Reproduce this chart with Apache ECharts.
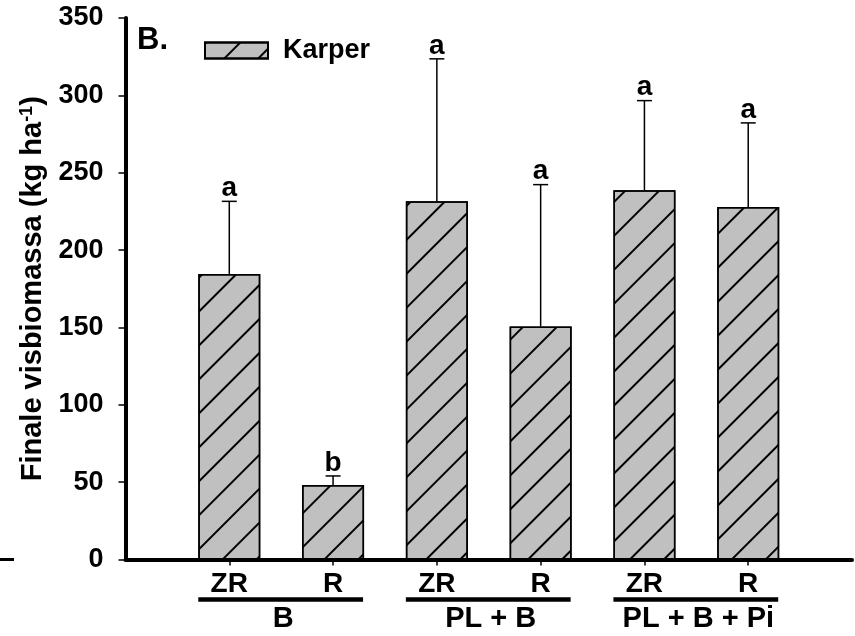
<!DOCTYPE html>
<html>
<head>
<meta charset="utf-8">
<script src="https://cdn.jsdelivr.net/npm/echarts@6/dist/echarts.min.js"></script>
<style>
  html, body { margin: 0; padding: 0; background: #fff; }
  #chart { width: 855px; height: 636px; }
</style>
</head>
<body>
<div id="chart"></div>
<script>
// treatments under each bar, and the fertilisation group they belong to
const categories = ['ZR', 'R', 'ZR', 'R', 'ZR', 'R']
const groups = ['B', 'PL + B', 'PL + B + Pi']

// final fish biomass (kg/ha), upper error, significance letters
const means = [184.6, 48.2, 231.5, 150.6, 238.6, 227.8]
const errUp = [46.9, 5.8, 92.1, 91.7, 58.0, 54.4]
const letters = ['a', 'b', 'a', 'a', 'a', 'a']

const yMin = 0
const yMax = 350
const yStep = 50

const FONT = '"Liberation Sans", Arial, sans-serif'

// blank slot on both ends so the axis runs from the y axis to the edge
const axisData = [''].concat(categories, [''])
const barData = ['-'].concat(means, ['-'])
const errData = means.map((m, i) => [i + 1, m, m + errUp[i]])
const groupData = groups.map((g, i) => [2 * i + 1, 0])

const chart = echarts.init(document.getElementById('chart'))

const hatch = {
  symbol: 'rect',
  symbolSize: 1,
  color: '#000',
  dashArrayX: [1, 0],
  dashArrayY: [1.3, 22],
  rotation: -Math.PI / 4
}

const option = {
  animation: false,
  title: {
    text: 'B.',
    left: 137,
    top: 25,
    padding: 0,
    textStyle: { fontFamily: FONT, fontSize: 31, fontWeight: 'bold', color: '#000' }
  },
  legend: {
    left: 204,
    top: 37,
    padding: 0,
    icon: 'rect',
    itemWidth: 63,
    itemHeight: 16,
    textStyle: { fontFamily: FONT, fontSize: 27, fontWeight: 'bold', color: '#000', padding: [0, 0, 0, 10] },
    data: ['Karper']
  },
  grid: { left: 125.5, right: 0, top: 18, bottom: 76.5 },
  xAxis: {
    type: 'category',
    data: axisData,
    boundaryGap: false,
    axisLine: { lineStyle: { color: '#000', width: 4 } },
    axisTick: {
      length: 6,
      lineStyle: { color: '#000', width: 1.5 },
      interval: (i, v) => v !== ''
    },
    axisLabel: {
      interval: 0,
      margin: 11,
      fontFamily: FONT, fontSize: 28, fontWeight: 'bold', color: '#000'
    },
    splitLine: { show: false }
  },
  yAxis: {
    type: 'value',
    min: yMin,
    max: yMax,
    interval: yStep,
    name: '{t|Finale visbiomassa (kg ha}{s|-1}{t|)}',
    nameLocation: 'middle',
    nameGap: 75,
    nameTextStyle: {
      rich: {
        t: { fontFamily: FONT, fontSize: 29, fontWeight: 'bold', color: '#000' },
        s: { fontFamily: FONT, fontSize: 18, fontWeight: 'bold', color: '#000', verticalAlign: 'top', padding: [0, 0, 12, 0] }
      }
    },
    axisLine: { show: true, lineStyle: { color: '#000', width: 4 } },
    axisTick: { show: true, length: 7, lineStyle: { color: '#000', width: 1.5 } },
    axisLabel: { margin: 22, fontFamily: FONT, fontSize: 27, fontWeight: 'bold', color: '#000' },
    splitLine: { show: false }
  },
  series: [
    {
      name: 'Karper',
      type: 'bar',
      data: barData,
      barWidth: 62,
      itemStyle: {
        color: '#c0c0c0',
        borderColor: '#000',
        borderWidth: 1.5,
        decal: hatch
      }
    },
    {
      name: 'err',
      type: 'custom',
      clip: false,
      data: errData,
      encode: { x: 0, y: [1, 2] },
      z: 5,
      renderItem: (params, api) => {
        const base = api.coord([api.value(0), api.value(1)])
        const top = api.coord([api.value(0), api.value(2)])
        const ln = { stroke: '#000', lineWidth: 1.5 }
        return {
          type: 'group',
          children: [
            { type: 'line', shape: { x1: base[0], y1: base[1], x2: top[0], y2: top[1] }, style: ln },
            { type: 'line', shape: { x1: top[0] - 7.5, y1: top[1], x2: top[0] + 7.5, y2: top[1] }, style: ln },
            {
              type: 'text',
              style: {
                text: letters[params.dataIndex],
                x: top[0], y: top[1] + 1,
                align: 'center', verticalAlign: 'bottom',
                font: 'bold 28px ' + FONT, fill: '#000'
              }
            }
          ]
        }
      }
    },
    {
      name: 'groups',
      type: 'custom',
      clip: false,
      data: groupData,
      z: 5,
      renderItem: (params, api) => {
        const i = params.dataIndex
        const a = api.coord([2 * i + 1, 0])
        const b = api.coord([2 * i + 2, 0])
        const y = a[1] + 40
        return {
          type: 'group',
          children: [
            { type: 'line', shape: { x1: a[0] - 31, y1: y, x2: b[0] + 30, y2: y }, style: { stroke: '#000', lineWidth: 4.5 } },
            {
              type: 'text',
              style: {
                text: groups[i],
                x: (a[0] + b[0]) / 2 + 2, y: y + 19,
                align: 'center', verticalAlign: 'middle',
                font: 'bold 29px ' + FONT, fill: '#000'
              }
            }
          ]
        }
      }
    }
  ],
  graphic: [
    { type: 'line', shape: { x1: 0, y1: 559.5, x2: 14, y2: 559.5 }, style: { stroke: '#000', lineWidth: 3 } }
  ]
}

chart.setOption(option)
</script>
</body>
</html>
